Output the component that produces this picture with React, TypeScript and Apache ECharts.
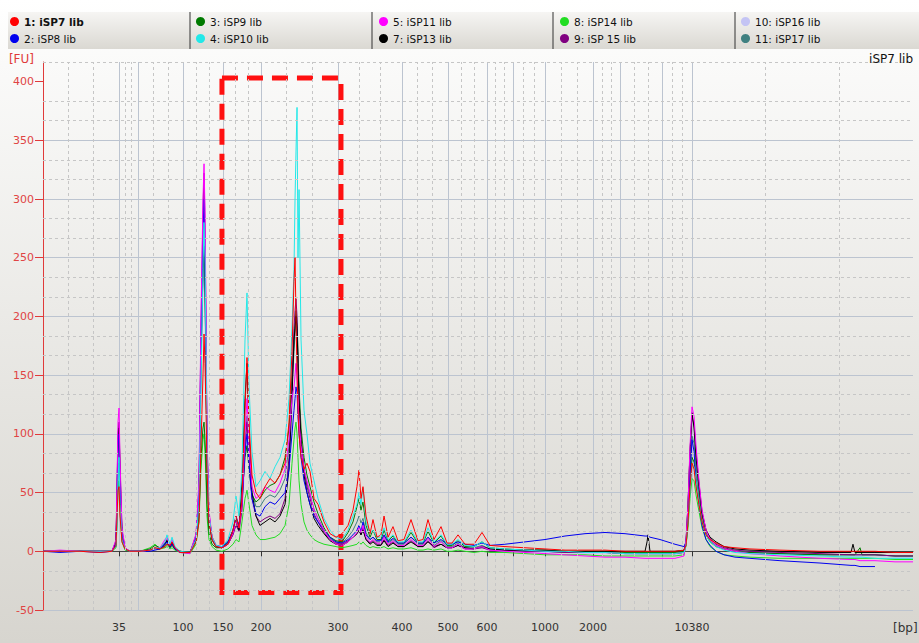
import React, { useEffect, useRef } from "react";
import * as echarts from "echarts";

// Migration time (s) of each sample point
const timeSec = [
  20.0, 21.95, 24.25, 26.55, 27.93,
  28.39, 28.51, 28.62, 28.74, 28.85, 29.08, 29.43,
  30.0, 31.15, 32.3, 32.87, 33.45, 34.02, 34.25, 34.6, 34.83, 35.17, 35.75, 36.9,
  37.59, 37.93, 38.16, 38.39, 38.51, 38.62, 38.74, 38.85, 39.08, 39.43, 39.89,
  40.57, 41.26, 41.84, 42.18, 42.53, 42.87, 43.22, 43.45, 43.68, 44.02, 44.48, 44.94, 45.52, 46.09, 46.67, 47.24, 47.82, 48.28, 48.62,
  48.85, 48.97, 49.08, 49.2, 49.31, 49.43, 49.66, 50.0, 50.34, 50.69, 51.15, 51.61, 52.3, 52.99, 53.68,
  54.37, 55.06, 55.63, 56.09, 56.32, 56.55, 56.78, 57.13, 57.59, 57.93, 58.39, 58.85, 59.2, 59.66, 60.23, 60.8, 61.49, 62.3, 63.1, 63.68, 64.25, 64.94, 65.75, 66.44, 67.01, 67.7, 68.51, 69.54, 70.46, 71.38,
  73.1, 75.4, 77.7, 80.0, 82.3, 84.6, 86.9, 89.2, 89.43, 89.54, 89.77, 90.92, 92.64, 93.68, 93.91, 94.14, 94.37,
  94.6, 94.83, 95.06, 95.4, 95.75, 96.21, 96.67, 97.36, 98.28, 99.54, 101.26, 104.71, 109.31, 112.87, 113.1, 113.33, 113.91, 114.14, 115.63, 117.93, 120.0,
];

// Ladder (bp) and its migration times
const ladderBp = [35, 50, 100, 150, 200, 300, 400, 500, 600, 700, 1000, 2000, 3000, 7000, 10380];
const ladderTime = [28.74, 30.92, 36.09, 40.69, 45.06, 53.91, 61.26, 66.55, 71.03, 74.02, 77.7, 83.22, 86.32, 91.15, 94.6];
const labeledBp = [35, 100, 150, 200, 300, 400, 500, 600, 1000, 2000, 10380];
const fuTicks = [-50, 0, 50, 100, 150, 200, 250, 300, 350, 400];
const timeRange = [20, 120];
const fuRange = [-50, 416.67];
const boxTime = [40.57, 54.25];
const boxFu = [-35, 403];

const sampleNames = [
  "1: iSP7 lib", "2: iSP8 lib", "3: iSP9 lib", "4: iSP10 lib", "5: iSP11 lib",
  "7: iSP13 lib", "8: iSP14 lib", "9: iSP 15 lib", "10: iSP16 lib", "11: iSP17 lib",
];
const sampleColors = [
  "#ff0000", "#0000ee", "#007a00", "#22e8e8", "#ff00ff",
  "#000000", "#22dd22", "#800080", "#c4c4f4", "#3f8080",
];

const iSP7 = [
  0, 0, 0, -1, 0,
  5, 30, 52, 55, 30, 8, 2,
  0, 0, 1, 3, 2, 4, 6, 5, 8, 3, -1, -1,
  8, 25, 90, 150, 185, 160, 120, 70, 25, 10, 4,
  3, 6, 18, 30, 20, 45, 120, 165, 110, 65, 50, 45, 55, 62, 58, 65, 75, 110, 170,
  230, 250, 200, 150, 120, 100, 80, 70, 75, 68, 45, 40, 25, 15, 12,
  15, 22, 35, 55, 69, 45, 55, 30, 15, 27, 12, 14, 30, 12, 21, 9, 10, 27, 9, 10, 27, 10, 21, 7, 7, 14, 6, 6, 16, 5,
  4, 3, 2, 1, 1, 1, 0, 0, 0, 0, 0, 0, 0, 1, 5, 25, 55,
  75, 70, 55, 40, 25, 14, 10, 7, 4, 3, 2, 1, 0, 0, 0, 0, 0, 0, 0, -1, -1,
];
const iSP8 = [
  0, -1, 0, -1, 0,
  6, 40, 90, 100, 60, 15, 2,
  0, 0, 0, 1, 2, 6, 8, 4, 6, 2, -1, -1,
  12, 50, 180, 270, 300, 260, 180, 90, 30, 12, 5,
  4, 8, 18, 30, 22, 40, 85, 100, 75, 45, 32, 30, 38, 42, 40, 45, 50, 70, 100,
  120, 130, 140, 135, 115, 100, 80, 60, 50, 40, 30, 25, 18, 12, 8,
  7, 10, 14, 18, 22, 17, 25, 14, 10, 12, 9, 9, 14, 8, 11, 7, 7, 12, 7, 7, 12, 7, 10, 6, 6, 8, 6, 5, 7, 5,
  6, 8, 10, 13, 15, 16, 15, 13, 13, 13, 12, 10, 6, 4, 8, 30, 65,
  95, 85, 60, 40, 22, 10, 5, 0, -3, -5, -6, -8, -10, -12, -12, -12, -13, -13, -13, null, null,
];
const iSP9 = [
  0, 0, 0, 0, 0,
  4, 30, 65, 75, 45, 10, 2,
  0, 0, 2, 5, 3, 4, 6, 3, 5, 2, 0, -1,
  8, 30, 80, 105, 110, 95, 70, 40, 15, 6, 3,
  3, 8, 18, 28, 22, 45, 80, 90, 70, 48, 42, 45, 52, 56, 58, 65, 80, 105, 150,
  180, 195, 205, 195, 170, 140, 105, 80, 65, 55, 42, 32, 20, 12, 9,
  8, 16, 25, 38, 45, 35, 42, 22, 12, 18, 10, 10, 18, 9, 13, 7, 7, 16, 7, 7, 17, 7, 13, 5, 5, 9, 4, 4, 8, 3,
  2, 1, 1, 0, 0, 0, -1, -1, -1, -1, -1, -1, -1, 0, 5, 25, 55,
  80, 76, 62, 44, 26, 14, 8, 4, 2, 0, -1, -2, -3, -3, -3, -3, 3, -3, -3, -4, -4,
];
const iSP10 = [
  0, 0, 0, 0, 0,
  4, 20, 60, 80, 40, 10, 2,
  0, 0, 1, 2, 3, 8, 14, 6, 12, 4, 0, -1,
  10, 40, 140, 240, 280, 250, 170, 85, 30, 12, 5,
  4, 10, 25, 47, 30, 70, 180, 220, 140, 85, 55, 60, 68, 62, 72, 80, 95, 130, 190,
  240, 300, 340, 378, 250, 308, 180, 120, 100, 75, 60, 45, 28, 18, 12,
  10, 18, 30, 40, 50, 40, 54, 25, 15, 18, 12, 12, 20, 10, 14, 8, 8, 18, 8, 8, 20, 8, 14, 6, 6, 10, 5, 4, 8, 3,
  2, 1, 0, 0, -1, -1, -2, -2, -2, -2, -2, -2, -2, -1, 5, 25, 50,
  74, 72, 60, 42, 25, 14, 8, 4, 1, -1, -2, -3, -4, -5, -5, -5, -5, -5, -6, -6, -6,
];
const iSP11 = [
  0, 1, 0, 0, 0,
  10, 60, 110, 122, 80, 20, 3,
  0, 0, 1, 2, 3, 10, 12, 5, 10, 3, -1, -2,
  15, 60, 200, 300, 330, 290, 200, 100, 35, 12, 5,
  3, 6, 15, 25, 20, 40, 100, 130, 90, 55, 45, 48, 55, 52, 50, 58, 70, 95, 130,
  140, 150, 160, 150, 130, 110, 90, 70, 60, 50, 35, 28, 18, 10, 6,
  5, 8, 12, 16, 20, 16, 22, 12, 8, 10, 7, 7, 12, 6, 9, 5, 5, 10, 5, 5, 11, 4, 8, 3, 3, 6, 2, 2, 4, 1,
  0, -1, -2, -3, -4, -5, -5, -6, -6, -6, -6, -6, -6, -4, 10, 40, 90,
  123, 115, 90, 60, 35, 18, 10, 5, 2, 0, -2, -4, -6, -7, -7, -7, -8, -8, -8, -9, -9,
];
const iSP13 = [
  0, 0, 0, 0, 0,
  8, 50, 95, 105, 70, 15, 2,
  0, 0, 1, 2, 2, 6, 9, 4, 7, 2, 0, -1,
  10, 40, 160, 240, 260, 230, 150, 75, 25, 10, 4,
  3, 6, 15, 25, 18, 60, 130, 160, 100, 50, 30, 22, 25, 28, 25, 30, 40, 70, 130,
  180, 190, 200, 190, 160, 130, 95, 65, 50, 40, 28, 22, 15, 9, 6,
  5, 8, 12, 15, 18, 14, 18, 10, 6, 8, 5, 5, 9, 4, 7, 4, 4, 8, 4, 4, 8, 4, 6, 3, 3, 5, 3, 2, 4, 2,
  1, 1, 1, 0, 0, 0, 0, 0, 8, 14, 0, 0, 0, 1, 8, 40, 85,
  118, 105, 80, 55, 32, 18, 12, 8, 4, 2, 1, 0, -1, -1, 6, -1, -1, -1, -1, -1, -1,
];
const iSP14 = [
  0, 0, 0, 0, 0,
  3, 25, 50, 60, 35, 8, 1,
  0, 0, 3, 6, 2, 3, 4, 2, 3, 1, -1, -2,
  6, 25, 70, 95, 100, 85, 60, 30, 10, 4, 1,
  0, 2, 6, 10, 8, 25, 45, 52, 40, 22, 14, 10, 10, 11, 12, 15, 22, 40, 75,
  95, 105, 110, 100, 80, 60, 40, 25, 18, 14, 10, 8, 6, 5, 4,
  3, 4, 5, 6, 8, 6, 8, 5, 3, 4, 3, 3, 4, 2, 3, 2, 2, 3, 1, 1, 2, 1, 2, 0, 0, 1, 0, -1, 0, -1,
  -1, -2, -3, -3, -3, -4, -4, -4, -4, -4, -4, -4, -4, -3, 5, 20, 45,
  62, 60, 48, 34, 20, 10, 4, 0, -3, -4, -5, -6, -6, -6, -6, -6, -6, -6, -6, -7, -7,
];
const iSP15 = [
  0, 0, 0, 0, 0,
  9, 55, 100, 110, 75, 18, 3,
  0, 0, 1, 2, 3, 7, 10, 4, 8, 3, -1, -1,
  14, 55, 190, 290, 322, 280, 190, 95, 32, 12, 5,
  3, 6, 14, 22, 17, 35, 90, 110, 80, 45, 30, 25, 28, 30, 28, 32, 45, 80, 140,
  190, 205, 215, 200, 160, 130, 95, 70, 55, 45, 32, 25, 16, 10, 7,
  6, 9, 12, 15, 18, 14, 20, 10, 7, 9, 6, 6, 10, 5, 8, 4, 4, 9, 4, 4, 9, 3, 6, 3, 3, 5, 2, 2, 3, 1,
  1, 0, 0, -1, -1, -1, -2, -2, -2, -2, -2, -2, -2, -1, 8, 40, 85,
  115, 108, 85, 58, 34, 18, 11, 6, 3, 1, 0, -1, -2, -3, -3, -3, -3, -3, -3, -4, -4,
];
const iSP16 = [
  0, 0, 0, 0, 0,
  6, 40, 80, 90, 55, 12, 2,
  0, 0, 1, 2, 2, 5, 7, 3, 5, 2, 0, -1,
  10, 40, 150, 220, 240, 210, 140, 70, 25, 10, 4,
  3, 6, 14, 22, 17, 35, 75, 95, 70, 40, 30, 30, 35, 38, 36, 40, 50, 75, 110,
  140, 150, 160, 150, 130, 110, 85, 62, 50, 40, 30, 24, 16, 10, 7,
  6, 9, 12, 15, 18, 14, 18, 10, 7, 9, 6, 6, 10, 5, 8, 4, 4, 9, 4, 4, 9, 3, 6, 3, 3, 5, 2, 2, 3, 1,
  0, 0, -1, -1, -2, -2, -2, -3, -3, -3, -3, -3, -3, -2, 6, 30, 70,
  100, 95, 75, 50, 30, 16, 9, 5, 2, 0, -1, -2, -3, -4, -4, -4, -4, -4, -4, -5, -5,
];
const iSP17 = [
  0, 0, 0, 0, 0,
  7, 45, 85, 95, 60, 14, 2,
  0, 0, 1, 3, 2, 5, 8, 3, 6, 2, 0, -1,
  12, 45, 170, 240, 250, 220, 150, 75, 28, 10, 4,
  3, 7, 16, 26, 20, 40, 90, 115, 85, 50, 38, 38, 45, 48, 46, 52, 62, 90, 140,
  170, 185, 195, 185, 160, 130, 95, 70, 58, 48, 36, 28, 18, 11, 8,
  7, 12, 18, 25, 30, 24, 28, 16, 10, 12, 8, 8, 13, 7, 10, 6, 6, 12, 6, 6, 12, 5, 9, 4, 4, 7, 3, 3, 5, 2,
  1, 0, 0, -1, -1, -1, -2, -2, -2, -2, -2, -2, -2, -1, 6, 30, 70,
  98, 92, 72, 50, 30, 16, 9, 5, 2, 0, -1, -2, -3, -3, -3, -3, -3, -3, -3, -4, -4,
];

const sampleValues = [iSP7, iSP8, iSP9, iSP10, iSP11, iSP13, iSP14, iSP15, iSP16, iSP17];
// drawing order (last on top)
const drawOrder = [8, 9, 6, 2, 7, 5, 1, 4, 3, 0];

const FONT = "DejaVu Sans";

export default function App() {
  const ref = useRef<HTMLDivElement>(null);

  useEffect(() => {
    const chart = echarts.init(ref.current!, null, { renderer: "svg" });

    const labeledTime = ladderTime.filter((_, i) => labeledBp.includes(ladderBp[i]));
    const bpLabel = (v: number) => {
      const i = ladderTime.findIndex((t) => Math.abs(t - v) < 1e-6);
      return i >= 0 ? String(ladderBp[i]) : "";
    };

    // minor dashed grid: thirds between consecutive ticks
    const xBounds = [timeRange[0], ...ladderTime, timeRange[1]];
    const xMinor: number[] = [];
    for (let i = 0; i < xBounds.length - 1; i++) {
      const a = xBounds[i], b = xBounds[i + 1];
      xMinor.push(a + (b - a) / 3, a + (2 * (b - a)) / 3);
    }
    const yMinor: number[] = [];
    for (let i = 0; i < fuTicks.length - 1; i++) {
      const a = fuTicks[i], b = fuTicks[i + 1];
      yMinor.push(a + (b - a) / 3, a + (2 * (b - a)) / 3);
    }
    yMinor.push(fuRange[1]);

    const sampleSeries = drawOrder.map((k) => ({
      name: sampleNames[k],
      type: "line",
      data: timeSec.map((t, i) => [t, sampleValues[k][i]]),
      showSymbol: false,
      symbol: "none",
      connectNulls: false,
      silent: true,
      z: 3,
      lineStyle: { color: sampleColors[k], width: 1 },
      itemStyle: { color: sampleColors[k] },
      emphasis: { disabled: true },
    }));

    const legendLeft = [10, 196, 379, 560, 741];
    const legendCols = [[0, 1], [2, 3], [4, 5], [6, 7], [8, 9]];

    const option: any = {
      animation: false,
      textStyle: { fontFamily: FONT },
      title: {
        text: "iSP7 lib",
        right: 6,
        top: 53,
        padding: 0,
        textStyle: { fontSize: 12, fontWeight: "normal", color: "#111", fontFamily: FONT },
      },
      legend: legendCols.map((col, k) => ({
        orient: "vertical",
        left: legendLeft[k],
        top: 16,
        padding: 0,
        itemWidth: 9,
        itemHeight: 9,
        itemGap: 6,
        icon: "circle",
        selectedMode: false,
        data: col.map((i) => sampleNames[i]),
        formatter: (n: string) => (n === sampleNames[0] ? `{b|${n}}` : n),
        textStyle: {
          fontSize: 10.5,
          color: "#111",
          fontFamily: FONT,
          rich: { b: { fontWeight: "bold", fontSize: 10.5, color: "#111", fontFamily: FONT } },
        },
      })),
      graphic: [
        {
          type: "rect",
          shape: { x: 8, y: 12, width: 911, height: 37 },
          style: {
            fill: new echarts.graphic.LinearGradient(0, 0, 0, 1, [
              { offset: 0, color: "#f6f5f3" },
              { offset: 1, color: "#dad8d2" },
            ]),
          },
          z: -1,
          silent: true,
        },
        ...[190, 372, 553, 735].map((x) => ({
          type: "line",
          shape: { x1: x, y1: 12, x2: x, y2: 49 },
          style: { stroke: "#333", lineWidth: 1 },
          z: 0,
          silent: true,
        })),
        {
          type: "text",
          left: 893,
          top: 622,
          silent: true,
          style: { text: "[bp]", fill: "#333", fontSize: 12, fontFamily: FONT },
        },
      ],
      grid: { left: 43, right: 6, top: 62, bottom: 33, containLabel: false, outerBoundsMode: "none" },
      xAxis: {
        type: "value",
        min: timeRange[0],
        max: timeRange[1],
        axisLine: { show: true, lineStyle: { color: "#444", width: 1 } },
        axisTick: { show: true, customValues: ladderTime, length: 5, lineStyle: { color: "#333" } },
        axisLabel: {
          customValues: labeledTime,
          formatter: (v: number) => bpLabel(v),
          color: "#333",
          fontSize: 11,
          margin: 12,
          fontFamily: FONT,
        },
        splitLine: { show: true, lineStyle: { color: "#bcc4d0", width: 1 } },
      },
      yAxis: {
        type: "value",
        min: fuRange[0],
        max: fuRange[1],
        interval: 50,
        name: "[FU]",
        nameLocation: "end",
        nameGap: 3,
        nameTextStyle: {
          color: "#e03a3a",
          fontSize: 12,
          align: "right",
          verticalAlign: "middle",
          padding: [0, 9, 0, 0],
          fontFamily: FONT,
        },
        axisLine: { show: true, lineStyle: { color: "#e03a3a", width: 1 } },
        axisTick: { show: true, customValues: fuTicks, length: 8, lineStyle: { color: "#e03a3a" } },
        axisLabel: {
          customValues: fuTicks,
          color: "#e04444",
          fontSize: 11,
          margin: 9,
          fontFamily: FONT,
        },
        splitLine: { show: true, showMaxLine: false, lineStyle: { color: "#bcc4d0", width: 1 } },
      },
      series: [
        {
          name: "minor grid",
          type: "line",
          data: [],
          silent: true,
          z: 1,
          markLine: {
            silent: true,
            symbol: ["none", "none"],
            label: { show: false },
            emphasis: { disabled: true },
            lineStyle: { color: "#c6c6c6", type: [3, 3], width: 1 },
            data: [
              ...xMinor.map((v) => ({ xAxis: v })),
              ...yMinor.map((v) => ({ yAxis: v })),
            ],
          },
        },
        ...sampleSeries,
        {
          name: "highlight",
          type: "line",
          data: [],
          silent: true,
          z: 20,
          markArea: {
            silent: true,
            label: { show: false },
            itemStyle: {
              color: "rgba(0,0,0,0)",
              borderColor: "#ff1010",
              borderWidth: 5,
              borderType: [16, 9],
            },
            data: [[{ xAxis: boxTime[0], yAxis: boxFu[1] }, { xAxis: boxTime[1], yAxis: boxFu[0] }]],
          },
        },
      ],
    };

    chart.setOption(option);
    return () => chart.dispose();
  }, []);

  return (
    <div
      ref={ref}
      style={{
        position: "fixed",
        left: 0,
        top: 0,
        width: 919,
        height: 643,
        background: "linear-gradient(to bottom, #ffffff 0%, #fafaf9 10%, #d7d5cf 100%)",
      }}
    />
  );
}
